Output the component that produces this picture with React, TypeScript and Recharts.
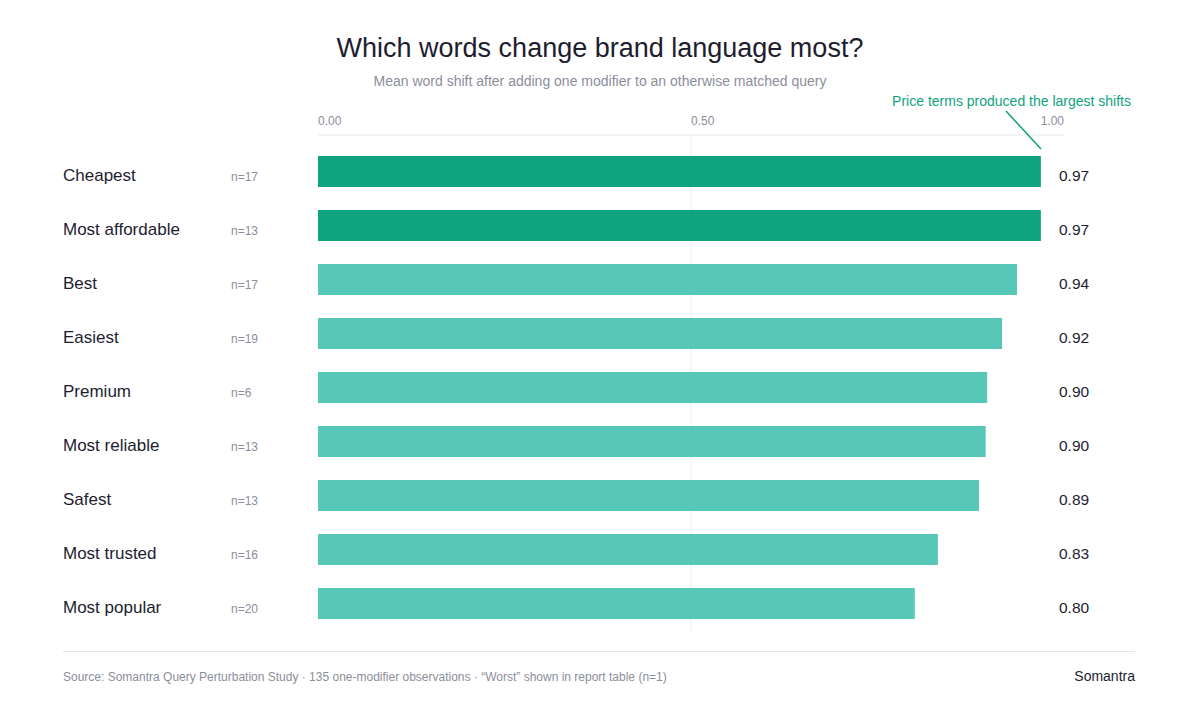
import React from "react";
import { BarChart, Bar, XAxis, YAxis, CartesianGrid, Cell, LabelList } from "recharts";

const categories = ["Cheapest", "Most affordable", "Best", "Easiest", "Premium", "Most reliable", "Safest", "Most trusted", "Most popular"];
const shiftValues = [0.969, 0.969, 0.937, 0.917, 0.897, 0.895, 0.886, 0.831, 0.8];
const sampleSizes = [17, 13, 17, 19, 6, 13, 13, 16, 20];
const priceTerms = ["Cheapest", "Most affordable"];
const axisTicks = [0, 0.5, 1];

const data = categories.map((name, i) => ({ name, value: shiftValues[i], n: sampleSizes[i] }));

const FONT = "'Liberation Sans', Arial, Helvetica, sans-serif";
const DARK = "#1d1d2f";
const GRAY = "#8c8e9c";
const GREEN = "#10a37f";
const TEAL = "#57c7b8";

const XTick = (props: any) => {
  const { x, y, payload, index } = props;
  const anchor = index === axisTicks.length - 1 ? "end" : "start";
  return (
    <text x={x} y={y - 2} textAnchor={anchor} fontSize={12} fill={GRAY} fontFamily={FONT}>
      {Number(payload.value).toFixed(2)}
    </text>
  );
};

const YTick = (props: any) => {
  const { y, payload, index } = props;
  const row = data[index] || data.find((d) => d.name === payload.value);
  return (
    <g>
      <text x={63} y={y + 10} fontSize={17} fill={DARK} fontFamily={FONT}>
        {payload.value}
      </text>
      <text x={231} y={y + 10} fontSize={12} fill={GRAY} fontFamily={FONT}>
        {`n=${row ? row.n : ""}`}
      </text>
    </g>
  );
};

const ValueLabel = (props: any) => {
  const { y, height, value } = props;
  return (
    <text x={1059} y={y + height / 2 + 9.5} fontSize={15.5} fill={DARK} fontFamily={FONT}>
      {Number(value).toFixed(2)}
    </text>
  );
};

export default function App() {
  return (
    <div style={{ position: "absolute", left: 0, top: 0, width: 1200, height: 720, background: "#fff", fontFamily: FONT }}>
      <BarChart
        layout="vertical"
        width={1200}
        height={720}
        data={data}
        margin={{ top: 105, right: 136, bottom: 88, left: 63 }}
      >
        <CartesianGrid
          horizontal={false}
          stroke="#eeeeee"
          verticalCoordinatesGenerator={(p: any) => {
            const s = p?.xAxis?.scale;
            if (s && typeof s === "function") return [s(0.5)];
            if (s && typeof s.map === "function") return [s.map(0.5)];
            return [];
          }}
        />
        <XAxis
          type="number"
          orientation="top"
          domain={[0, 1]}
          ticks={axisTicks}
          height={30}
          axisLine={{ stroke: "#e6e6e6" }}
          tickLine={false}
          tick={<XTick />}
          interval={0}
        />
        <YAxis
          type="category"
          dataKey="name"
          width={255}
          axisLine={false}
          tickLine={false}
          tick={<YTick />}
          padding={{ top: 9, bottom: 2 }}
          interval={0}
        />
        <Bar dataKey="value" barSize={31} isAnimationActive={false}>
          {data.map((d) => (
            <Cell key={d.name} fill={priceTerms.includes(d.name) ? GREEN : TEAL} />
          ))}
          <LabelList dataKey="value" content={<ValueLabel />} />
        </Bar>
      </BarChart>
      <svg
        width={1200}
        height={720}
        style={{ position: "absolute", left: 0, top: 0, pointerEvents: "none" }}
      >
        <text x={600} y={57} textAnchor="middle" fontSize={27} fill={DARK} fontFamily={FONT}>
          Which words change brand language most?
        </text>
        <text x={600} y={86} textAnchor="middle" fontSize={14} fill={GRAY} fontFamily={FONT}>
          Mean word shift after adding one modifier to an otherwise matched query
        </text>
        <text x={1131} y={106} textAnchor="end" fontSize={14} fill={GREEN} fontFamily={FONT}>
          Price terms produced the largest shifts
        </text>
        <line x1={1006} y1={111} x2={1041} y2={149} stroke={GREEN} strokeWidth={1.5} />
        <line x1={63} y1={651.5} x2={1135} y2={651.5} stroke="#e6e6e6" strokeWidth={1} />
        <text x={63} y={681} fontSize={12} fill={GRAY} fontFamily={FONT}>
          Source: Somantra Query Perturbation Study · 135 one-modifier observations · “Worst” shown in report table (n=1)
        </text>
        <text x={1135} y={681} textAnchor="end" fontSize={14} fill={DARK} fontFamily={FONT}>
          Somantra
        </text>
      </svg>
    </div>
  );
}
